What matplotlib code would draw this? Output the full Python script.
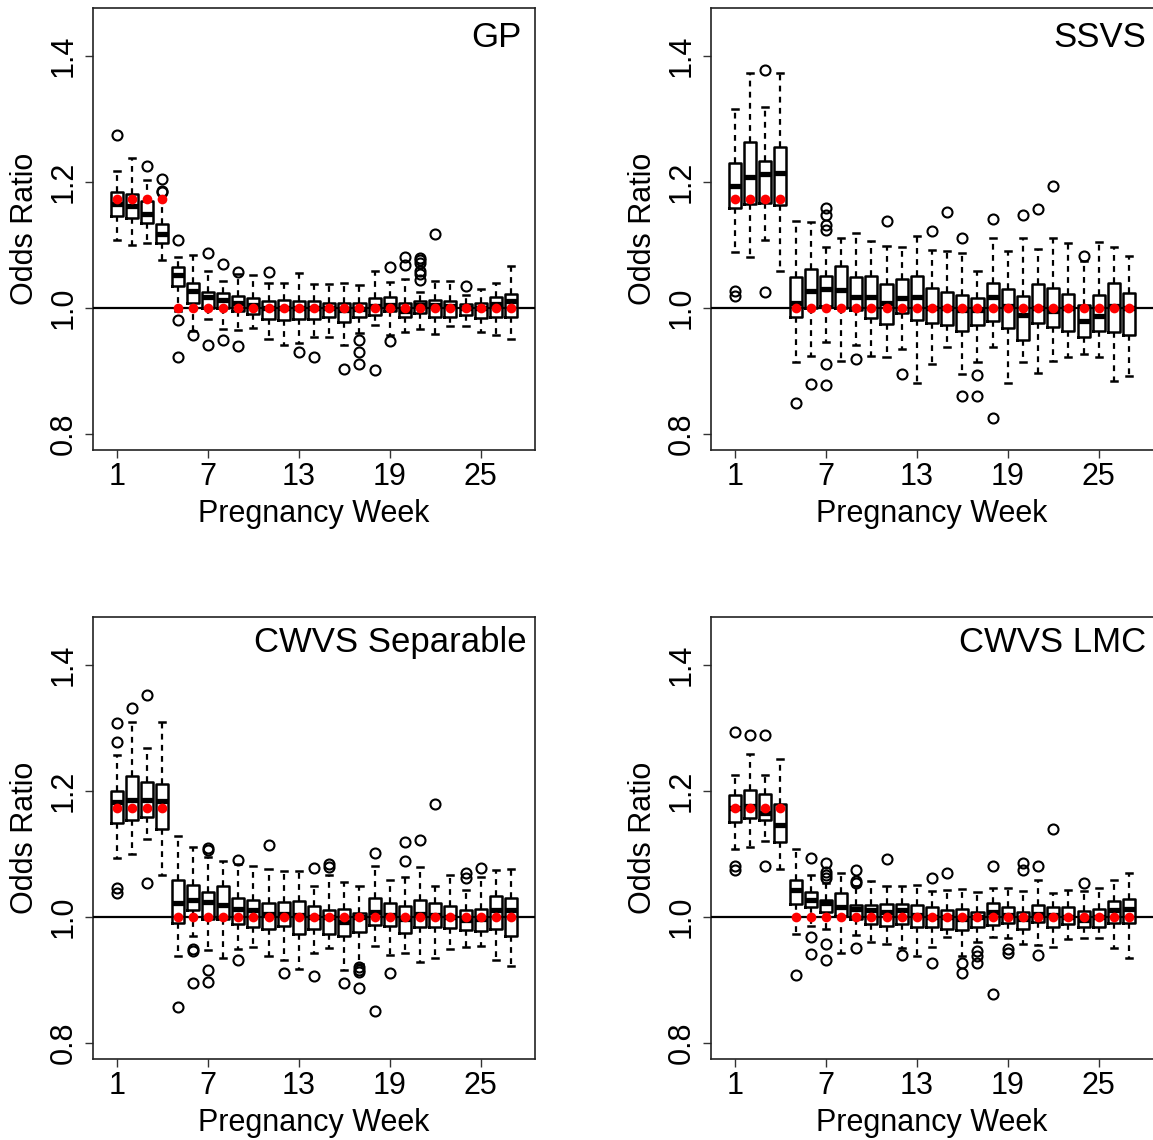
import matplotlib
matplotlib.use("Agg")
import matplotlib.pyplot as plt

plt.rcParams['font.family'] = ['Liberation Sans', 'DejaVu Sans']

weeks = list(range(1, 28))
true_or = [1.173] * 4 + [1.0] * 23
x_ticks = [1, 7, 13, 19, 25]
y_ticks = [0.8, 1.0, 1.2, 1.4]
y_tick_labels = ["0.8", "1.0", "1.2", "1.4"]
titles = ["GP", "SSVS", "CWVS Separable", "CWVS LMC"]

# ---------------- GP ----------------
gp_hi = [1.217, 1.238, 1.203, 1.172, 1.080, 1.084, 1.058, 1.043, 1.053, 1.052, 1.039, 1.040, 1.055, 1.037,
         1.038, 1.040, 1.036, 1.059, 1.041, 1.046, 1.025, 1.043, 1.043, 1.020, 1.030, 1.039, 1.067]
gp_q3 = [1.183, 1.180, 1.170, 1.133, 1.064, 1.039, 1.025, 1.024, 1.019, 1.015, 1.010, 1.012, 1.011, 1.011,
         1.008, 1.007, 1.008, 1.016, 1.017, 1.008, 1.011, 1.013, 1.011, 1.006, 1.007, 1.017, 1.022]
gp_med = [1.164, 1.162, 1.149, 1.117, 1.052, 1.026, 1.017, 1.012, 1.007, 1.005, 1.000, 1.000, 1.000, 1.000,
          0.999, 0.996, 0.998, 1.003, 1.005, 0.994, 1.005, 1.005, 1.002, 1.000, 1.000, 1.006, 1.010]
gp_q1 = [1.146, 1.142, 1.135, 1.103, 1.035, 1.008, 1.000, 1.000, 0.995, 0.990, 0.982, 0.981, 0.982, 0.982,
         0.986, 0.977, 0.985, 0.988, 0.994, 0.985, 0.992, 0.986, 0.986, 0.988, 0.984, 0.985, 0.985]
gp_lo = [1.107, 1.099, 1.102, 1.075, 0.995, 0.963, 0.982, 0.966, 0.965, 0.967, 0.950, 0.941, 0.944, 0.954,
         0.954, 0.941, 0.960, 0.972, 0.956, 0.961, 0.966, 0.958, 0.971, 0.971, 0.962, 0.956, 0.951]
gp_out = [[1.275], [], [1.225], [1.204, 1.186, 1.183], [1.108, 0.981, 0.921], [0.956], [1.087, 0.941],
          [1.069, 0.949], [1.057, 0.939], [], [1.056], [], [0.929], [0.921], [], [0.903],
          [0.948, 0.929, 0.910], [0.901], [1.065, 0.947], [1.081, 1.068],
          [1.079, 1.075, 1.071, 1.059, 1.054, 1.044], [1.117], [], [1.034], [], [], []]

# ---------------- SSVS ----------------
ss_hi = [1.316, 1.372, 1.319, 1.372, 1.138, 1.136, 1.096, 1.111, 1.119, 1.106, 1.098, 1.096, 1.114, 1.091,
         1.090, 1.087, 1.058, 1.111, 1.090, 1.111, 1.094, 1.110, 1.102, 1.074, 1.104, 1.097, 1.082]
ss_q3 = [1.230, 1.263, 1.233, 1.255, 1.049, 1.062, 1.050, 1.066, 1.048, 1.051, 1.038, 1.045, 1.050, 1.032,
         1.025, 1.020, 1.015, 1.040, 1.030, 1.019, 1.038, 1.031, 1.021, 1.004, 1.020, 1.040, 1.023]
ss_med = [1.193, 1.207, 1.212, 1.214, 1.008, 1.026, 1.029, 1.028, 1.017, 1.017, 1.008, 1.016, 1.017, 1.000,
          1.000, 0.996, 0.996, 1.017, 1.003, 0.989, 1.000, 0.995, 1.000, 0.979, 0.987, 1.002, 1.000]
ss_q1 = [1.159, 1.164, 1.166, 1.163, 0.985, 1.000, 1.003, 1.000, 0.996, 0.983, 0.974, 0.992, 0.980, 0.975,
         0.972, 0.963, 0.972, 0.979, 0.967, 0.949, 0.975, 0.970, 0.963, 0.954, 0.963, 0.962, 0.957]
ss_lo = [1.088, 1.080, 1.107, 1.058, 0.913, 0.924, 0.946, 0.915, 0.941, 0.924, 0.922, 0.934, 0.881, 0.911,
         0.938, 0.894, 0.913, 0.938, 0.881, 0.913, 0.897, 0.915, 0.922, 0.926, 0.922, 0.884, 0.892]
ss_out = [[1.026, 1.019], [], [1.377, 1.025], [], [0.848], [0.879],
          [1.159, 1.147, 1.132, 1.123, 0.910, 0.878], [], [0.918], [], [1.137], [0.895], [], [1.122],
          [1.152], [1.111, 0.859], [0.893, 0.859], [1.141, 0.825], [], [1.147], [1.156], [1.193], [],
          [1.082], [], [], []]

# ---------------- CWVS Separable ----------------
sp_hi = [1.257, 1.310, 1.268, 1.310, 1.128, 1.111, 1.095, 1.089, 1.084, 1.081, 1.075, 1.072, 1.072, 1.049,
         1.066, 1.055, 1.048, 1.080, 1.059, 1.063, 1.079, 1.048, 1.067, 1.042, 1.063, 1.074, 1.076]
sp_q3 = [1.199, 1.224, 1.214, 1.210, 1.058, 1.050, 1.039, 1.048, 1.029, 1.027, 1.022, 1.023, 1.025, 1.017,
         1.010, 1.013, 1.006, 1.030, 1.022, 1.017, 1.026, 1.022, 1.017, 1.010, 1.013, 1.033, 1.030]
sp_med = [1.182, 1.186, 1.186, 1.183, 1.022, 1.027, 1.023, 1.018, 1.013, 1.011, 1.005, 1.005, 1.002, 1.000,
          1.000, 0.992, 1.000, 1.007, 1.002, 0.997, 1.005, 1.002, 1.000, 0.994, 0.997, 1.010, 1.010]
sp_q1 = [1.149, 1.154, 1.159, 1.139, 0.990, 1.010, 0.996, 0.997, 0.989, 0.983, 0.980, 0.985, 0.972, 0.981,
         0.973, 0.969, 0.976, 0.987, 0.985, 0.974, 0.984, 0.983, 0.982, 0.979, 0.977, 0.981, 0.969]
sp_lo = [1.094, 1.100, 1.123, 1.067, 0.938, 0.970, 0.947, 0.935, 0.949, 0.952, 0.937, 0.932, 0.917, 0.942,
         0.951, 0.915, 0.925, 0.953, 0.939, 0.942, 0.928, 0.934, 0.949, 0.952, 0.953, 0.931, 0.921]
sp_out = [[1.307, 1.277, 1.046, 1.038], [1.331], [1.352, 1.054], [], [0.857], [0.948, 0.946, 0.895],
          [1.109, 1.106, 0.916, 0.896], [], [1.090, 0.932], [], [1.114], [0.910], [], [1.078, 0.906],
          [1.083, 1.079], [0.895], [0.920, 0.916, 0.912, 0.887], [1.101, 0.850], [0.911], [1.119, 1.088],
          [1.122], [1.179], [], [1.070, 1.062], [1.077], [], []]

# ---------------- CWVS LMC ----------------
lm_hi = [1.225, 1.259, 1.225, 1.251, 1.108, 1.066, 1.054, 1.070, 1.048, 1.057, 1.049, 1.049, 1.051, 1.041,
         1.042, 1.044, 1.040, 1.045, 1.045, 1.041, 1.058, 1.038, 1.043, 1.041, 1.046, 1.058, 1.070]
lm_q3 = [1.193, 1.201, 1.195, 1.179, 1.058, 1.039, 1.026, 1.037, 1.019, 1.019, 1.020, 1.020, 1.019, 1.015,
         1.011, 1.012, 1.008, 1.022, 1.015, 1.008, 1.019, 1.015, 1.015, 1.009, 1.012, 1.025, 1.028]
lm_med = [1.172, 1.176, 1.164, 1.146, 1.042, 1.026, 1.021, 1.016, 1.012, 1.010, 1.007, 1.010, 1.003, 1.000,
          1.000, 0.997, 1.000, 1.008, 1.003, 0.997, 1.005, 1.003, 1.000, 0.995, 1.000, 1.011, 1.013]
lm_q1 = [1.151, 1.157, 1.153, 1.118, 1.020, 1.016, 1.008, 1.001, 0.997, 0.988, 0.985, 0.989, 0.983, 0.984,
         0.981, 0.979, 0.984, 0.987, 0.990, 0.981, 0.992, 0.984, 0.988, 0.983, 0.983, 0.990, 0.990]
lm_lo = [1.108, 1.111, 1.120, 1.075, 0.972, 0.985, 0.980, 0.942, 0.971, 0.960, 0.956, 0.950, 0.938, 0.952,
         0.967, 0.937, 0.960, 0.968, 0.966, 0.956, 0.955, 0.952, 0.964, 0.966, 0.966, 0.950, 0.935]
lm_out = [[1.293, 1.081, 1.074], [1.289], [1.288, 1.080], [], [0.907], [1.094, 0.968, 0.941],
          [1.086, 1.071, 1.066, 1.062, 0.957, 0.932], [], [1.074, 1.057, 1.054, 0.950], [], [1.092],
          [0.939], [], [1.061, 0.926], [1.070], [0.927, 0.911], [0.946, 0.938, 0.926], [1.080, 0.878],
          [0.948, 0.942], [1.086, 1.074], [1.080, 0.939], [1.139], [], [1.054], [], [], []]

panels = [
    (gp_lo, gp_q1, gp_med, gp_q3, gp_hi, gp_out),
    (ss_lo, ss_q1, ss_med, ss_q3, ss_hi, ss_out),
    (sp_lo, sp_q1, sp_med, sp_q3, sp_hi, sp_out),
    (lm_lo, lm_q1, lm_med, lm_q3, lm_hi, lm_out),
]

W, H = 1153, 1140
fig = plt.figure(figsize=(W / 100, H / 100), dpi=100)
fig.patch.set_facecolor("white")

# (left, top) pixel positions of each plot region, size 442x442 px
origins = [(93, 8), (711, 8), (93, 617), (711, 617)]
title_pos = [(0.970, 0.912), (0.984, 0.912), (0.980, 0.921), (0.984, 0.921)]
FS = 22
TFS = 25

for k, (lo, q1, med, q3, hi, out) in enumerate(panels):
    l, t = origins[k]
    ax = fig.add_axes([l / W, 1 - (t + 442) / H, 442 / W, 442 / H])
    stats = []
    for i in range(len(weeks)):
        stats.append(dict(whislo=lo[i], q1=q1[i], med=med[i], q3=q3[i], whishi=hi[i], fliers=out[i]))
    ax.bxp(stats, positions=weeks, widths=0.8, capwidths=0.4, manage_ticks=False,
           boxprops=dict(color="black", linewidth=1.8),
           whiskerprops=dict(color="black", linewidth=1.6, linestyle=(0, (2.6, 2.4))),
           capprops=dict(color="black", linewidth=1.8),
           medianprops=dict(color="black", linewidth=3.8, solid_capstyle="butt"),
           flierprops=dict(marker="o", markersize=7.2, markerfacecolor="none",
                           markeredgecolor="black", markeredgewidth=1.5, linestyle="none"))
    ax.axhline(1.0, color="black", linewidth=1.6, zorder=3)
    ax.plot(weeks, true_or, linestyle="none", marker="o", markersize=7.0, color="#ff0000",
            markeredgewidth=0, zorder=4)
    ax.set_xlim(-0.58, 28.58)
    ax.set_ylim(0.774, 1.476)
    ax.set_xticks(x_ticks)
    ax.set_xticklabels([str(v) for v in x_ticks])
    ax.set_yticks(y_ticks)
    ax.set_yticklabels(y_tick_labels, rotation=90, va="center")
    ax.tick_params(axis="both", direction="out", length=5.8, width=1.0, labelsize=FS, color="#333333")
    ax.tick_params(axis="x", pad=3)
    ax.tick_params(axis="y", pad=4.7)
    for sp in ax.spines.values():
        sp.set_linewidth(1.2)
        sp.set_color("#222222")
    if k in (1, 3):
        ax.spines["right"].set_visible(False)
    ax.set_xlabel("Pregnancy Week", fontsize=FS, labelpad=5)
    ax.set_ylabel("Odds Ratio", fontsize=FS, labelpad=6)
    tx, ty = title_pos[k]
    ax.text(tx, ty, titles[k], transform=ax.transAxes, ha="right", va="baseline", fontsize=TFS)

fig.savefig("out.png", dpi=100, facecolor="white")
